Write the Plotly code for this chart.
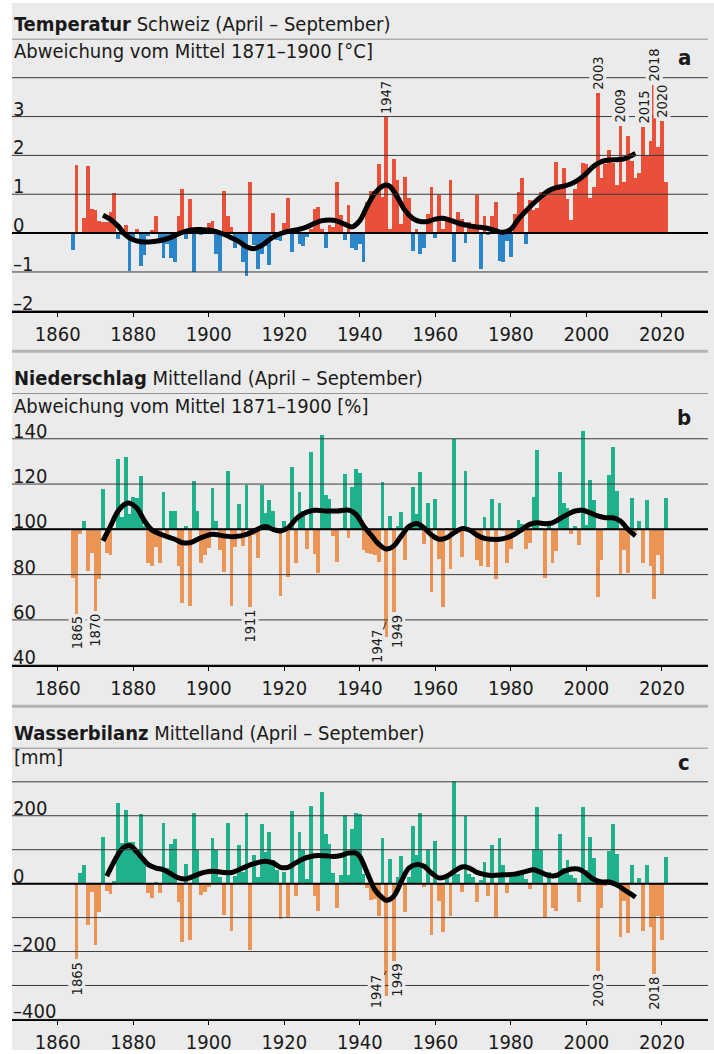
import plotly.graph_objects as go

YEARS = list(range(1864, 2022))

# Temperatur Schweiz, Abweichung vom Mittel 1871-1900 [°C]
TEMP = [
    -0.43, 1.75, 0.03, 0.40, 1.72, 0.62,                              # 1864-1869
    0.60, 0.32, 0.29, 0.30, 0.55, 1.04, -0.14, -0.05, 0.20, -0.97,    # 1870s
    -0.15, 0.12, -0.84, -0.56, -0.08, 0.08, 0.44, -0.24, -0.63, -0.28,
    -0.63, -0.75, 0.44, 1.13, -0.15, 0.87, -0.99, 0.04, -0.04, 0.05,
    0.27, 0.31, -0.54, -0.97, 1.08, 0.44, 0.15, -0.38, -0.25, -0.74,
    -1.09, 1.31, -0.30, -0.92, -0.54, -0.34, -0.82, 0.51, -0.17, -0.20,
    0.26, 0.90, -0.48, 0.10, -0.28, -0.32, -0.10, 0.10, 0.63, 0.68,
    0.10, -0.38, 0.20, 0.15, 1.31, 0.46, -0.17, 0.74, -0.38, -0.43,
    -0.28, -0.75, 0.80, 1.10, 1.10, 1.79, 0.94, 2.98, 0.12, 1.90,
    1.38, 0.23, 1.44, 0.90, -0.46, 0.10, -0.53, -0.38, 0.49, 1.18,
    -0.12, 0.98, 0.10, 0.40, 1.36, -0.75, 0.55, 0.36, -0.25, 0.30,
    0.10, 0.98, -0.91, 0.44, -0.05, 0.44, 0.80, -0.72, -0.75, -0.20,
    -0.62, 0.50, 1.06, 1.41, -0.27, 0.85, 0.60, 0.64, 1.06, 1.06,
    1.09, 1.20, 1.83, 1.21, 1.67, 0.87, 0.35, 1.15, 1.43, 1.81,
    1.79, 0.90, 1.19, 3.62, 1.41, 1.77, 2.15, 1.81, 1.24, 2.77,
    1.32, 2.50, 1.85, 1.41, 1.56, 2.73, 2.01, 2.37, 3.82, 2.21,
    2.90, 1.32,                                                        # 2020-2021
]

# Niederschlag Mittelland, % des Mittels 1871-1900
PRECIP = [
    78.7, 63.0, 98.2, 103.7, 81.9, 89.7,
    64.0, 78.4, 118.2, 89.9, 89.0, 101.0, 131.1, 105.6, 132.0, 106.9,
    114.7, 114.0, 123.6, 101.5, 85.3, 84.1, 92.4, 85.3, 116.9, 97.8,
    108.5, 108.5, 84.1, 67.7, 101.9, 66.5, 121.7, 108.5, 85.3, 89.0,
    91.9, 118.6, 104.1, 91.3, 81.4, 126.1, 66.5, 92.4, 111.6, 93.0,
    119.8, 65.8, 97.8, 87.5, 119.8, 107.3, 113.1, 108.5, 100.5, 70.9,
    103.7, 79.3, 127.6, 85.3, 116.9, 108.5, 91.5, 134.5, 89.3, 80.9,
    142.1, 115.4, 113.5, 97.4, 86.0, 100.5, 124.5, 96.6, 119.0, 126.7,
    125.0, 90.9, 89.7, 89.4, 89.0, 86.0, 121.0, 52.6, 105.9, 63.6,
    101.9, 108.1, 86.8, 100.5, 118.8, 107.0, 125.4, 93.7, 111.7, 72.4,
    113.5, 87.2, 65.8, 100.5, 82.8, 140.1, 100.5, 88.1, 126.0, 100.5,
    99.5, 86.8, 84.1, 105.6, 83.7, 113.5, 78.4, 111.7, 99.5, 85.3,
    91.5, 99.0, 104.3, 102.6, 91.5, 94.4, 114.4, 135.1, 100.5, 78.7,
    104.1, 85.5, 90.5, 125.7, 111.7, 109.5, 98.2, 101.5, 93.4, 143.6,
    102.2, 121.9, 113.1, 70.5, 86.8, 100.8, 124.2, 136.4, 117.2, 80.5,
    91.2, 80.9, 114.0, 99.0, 103.8, 85.5, 113.1, 84.1, 69.6, 89.0,
    80.5, 114.0,
]

# Wasserbilanz Mittelland [mm]
WATER = [
    None, -223, 33, 56, -122, -25,
    -179, -84, 139, -21, -30, 9, 237, 120, 216, 122,
    124, 100, 206, 72, -27, -42, 5, -27, 180, 46,
    118, 131, -54, -171, 59, -166, 208, 100, -34, -23,
    -10, 136, 100, 20, -93, 180, -139, 24, 115, 35,
    210, -196, 85, 20, 177, 94, 154, 71, 40, -104,
    36, -98, 213, -35, 154, 100, 14, 230, -37, -79,
    271, 146, 116, 31, -72, 27, 204, 25, 161, 210,
    206, 28, -13, -49, -45, -96, 136, -331, 74, -226,
    20, 82, -84, 20, 171, 86, 210, -10, 100, -152,
    127, -51, -142, 20, -96, 304, 30, -25, 201, 30,
    20, -54, 10, 63, -37, 113, -99, 136, 54, -27,
    25, 25, 25, 30, 15, -16, 103, 227, 100, -99,
    36, -72, -81, 146, 46, 69, 25, 17, -54, 227,
    40, 139, 77, -256, -72, -6, 98, 176, 88, -157,
    -52, -145, 56, -4, 16, -138, 54, -127, -266, -96,
    -165, 80,
]

# geglättete Kurven (gelesen aus der Vorlage)
TEMP_SMOOTH_YEARS = [1872, 1874, 1876, 1878, 1880, 1882, 1884, 1886, 1888, 1890, 1892, 1894,
                     1896, 1898, 1900, 1902, 1904, 1906, 1908, 1910, 1912, 1914, 1916, 1918,
                     1920, 1922, 1924, 1926, 1928, 1930, 1932, 1934, 1936, 1938, 1940, 1942,
                     1944, 1946, 1947, 1948, 1950, 1952, 1954, 1956, 1958, 1960, 1962, 1964,
                     1966, 1968, 1970, 1972, 1974, 1976, 1978, 1980, 1982, 1984, 1986, 1988,
                     1990, 1992, 1994, 1996, 1998, 2000, 2002, 2004, 2006, 2008, 2010, 2012, 2013]
TEMP_SMOOTH = [0.46, 0.35, 0.18, -0.05, -0.17, -0.22, -0.23, -0.21, -0.17, -0.11, -0.02, 0.05,
               0.09, 0.09, 0.08, 0.04, -0.03, -0.12, -0.22, -0.35, -0.40, -0.32, -0.17, -0.05,
               0.02, 0.06, 0.10, 0.16, 0.25, 0.32, 0.34, 0.31, 0.23, 0.16, 0.32, 0.70,
               1.03, 1.21, 1.24, 1.20, 0.92, 0.58, 0.38, 0.30, 0.30, 0.36, 0.38, 0.33,
               0.26, 0.21, 0.17, 0.15, 0.12, 0.06, 0.02, 0.10, 0.36, 0.57, 0.77, 0.94,
               1.09, 1.17, 1.21, 1.27, 1.38, 1.54, 1.73, 1.84, 1.88, 1.89, 1.91, 2.00, 2.05]

PRECIP_SMOOTH_YEARS = [1872, 1874, 1876, 1878, 1879, 1881, 1883, 1885, 1888, 1891, 1893, 1895,
                       1898, 1901, 1904, 1907, 1910, 1912, 1915, 1917, 1919, 1921, 1923, 1925,
                       1928, 1931, 1934, 1937, 1939, 1941, 1943, 1945, 1947, 1949, 1951, 1953,
                       1955, 1957, 1959, 1961, 1963, 1965, 1967, 1969, 1971, 1973, 1975, 1977,
                       1979, 1981, 1983, 1985, 1987, 1989, 1991, 1993, 1995, 1997, 1999, 2001,
                       2003, 2005, 2007, 2009, 2011, 2013]
PRECIP_SMOOTH = [94.9, 101.5, 108.1, 111.3, 111.6, 109.3, 103.7, 99.6, 97.4, 95.6, 94.1, 94.1,
                 96.3, 97.8, 97.1, 96.8, 97.8, 99.3, 101.2, 100.0, 99.3, 100.7, 104.4, 106.9,
                 108.4, 108.1, 108.1, 108.5, 106.6, 101.5, 97.5, 93.5, 91.3, 92.7, 97.1, 101.2,
                 102.6, 100.7, 97.5, 95.6, 96.3, 98.5, 100.3, 99.7, 97.5, 96.0, 95.6, 95.6,
                 96.3, 97.8, 100.0, 102.2, 102.9, 102.5, 102.9, 104.7, 106.6, 108.1, 108.4, 107.3,
                 105.9, 105.1, 105.1, 103.7, 100.0, 97.1]

WATER_SMOOTH_YEARS = [1873, 1875, 1877, 1879, 1880, 1882, 1884, 1886, 1888, 1890, 1892, 1894,
                      1896, 1898, 1900, 1902, 1904, 1906, 1908, 1910, 1912, 1915, 1917, 1919,
                      1921, 1923, 1925, 1927, 1929, 1931, 1933, 1935, 1937, 1939, 1940, 1942,
                      1944, 1946, 1947, 1949, 1951, 1953, 1955, 1957, 1959, 1961, 1963, 1965,
                      1967, 1969, 1971, 1973, 1975, 1978, 1981, 1984, 1986, 1988, 1990, 1992,
                      1994, 1996, 1998, 2000, 2002, 2004, 2006, 2008, 2010, 2012, 2013]
WATER_SMOOTH = [22, 66, 102, 112, 105, 80, 56, 46, 41, 29, 17, 14,
                22, 31, 36, 36, 33, 33, 41, 51, 59, 66, 61, 48,
                48, 61, 73, 80, 83, 82, 80, 83, 90, 90, 80, 31,
                -18, -42, -49, -37, 7, 46, 56, 51, 31, 17, 22, 36,
                49, 46, 33, 27, 24, 26, 28, 36, 41, 33, 24, 24,
                36, 43, 43, 29, 12, 5, 5, -3, -18, -32, -40]

X_TICKS = [1860, 1880, 1900, 1920, 1940, 1960, 1980, 2000, 2020]

TEMP_GRID = [-2, -1, 0, 1, 2, 3, 4, 5]
TEMP_TICKS = [3, 2, 1, 0, -1, -2]
TEMP_TICK_TEXT = ["3", "2", "1", "0", "–1", "–2"]
PRECIP_GRID = [40, 60, 80, 100, 120, 140, 160]
PRECIP_TICKS = [140, 120, 100, 80, 60, 40]
PRECIP_TICK_TEXT = ["140", "120", "100", "80", "60", "40"]
WATER_GRID = [-400, -300, -200, -100, 0, 100, 200, 300, 400]
WATER_TICKS = [200, 0, -200, -400]
WATER_TICK_TEXT = ["200", "0", "–200", "–400"]

TEMP_LABEL_YEARS = [1947, 2003, 2009, 2015, 2018, 2020]
PRECIP_LABEL_YEARS = [1865, 1870, 1911, 1949]
WATER_LABEL_YEARS = [1865, 1949, 2003, 2018]

FONT = "Liberation Sans Narrow, Arial Narrow, DejaVu Sans Condensed, Liberation Sans, Arial, sans-serif"
BG = "#ebebeb"
TXT = "#1a1a1a"
GRID = "#3a3a3a"
RED, BLUE = "#e8503a", "#2a86c8"
GREEN, ORANGE = "#1fb08c", "#ea9455"
TEXT_SIZE = 20

W, H = 714, 1054
X_DOMAIN = [12 / W, 708 / W]
X_RANGE = [1847.9, 2032.2]


def py(px):
    # Pixel von oben -> paper-Koordinate
    return (H - px) / H


PANELS = [
    # achse, daten, basis, farben, y-range, domain (px oben, px unten)
    ("", TEMP, 0, (RED, BLUE), [-2, 5], (39, 312)),
    ("2", PRECIP, 100, (GREEN, ORANGE), [40, 160], (395, 667.7)),
    ("3", WATER, 0, (GREEN, ORANGE), [-400, 400], (750.7, 1023.3)),
]
SMOOTH = [(TEMP_SMOOTH_YEARS, TEMP_SMOOTH), (PRECIP_SMOOTH_YEARS, PRECIP_SMOOTH),
          (WATER_SMOOTH_YEARS, WATER_SMOOTH)]
GRIDS = [TEMP_GRID, PRECIP_GRID, WATER_GRID]
TICKS = [(TEMP_TICKS, TEMP_TICK_TEXT), (PRECIP_TICKS, PRECIP_TICK_TEXT),
         (WATER_TICKS, WATER_TICK_TEXT)]

fig = go.Figure()
layout = {}
shapes = [dict(type="rect", xref="paper", yref="paper", x0=12 / W, x1=1, y0=0, y1=py(3),
               fillcolor=BG, line_width=0, layer="below")]
annotations = []

for (suffix, vals, base, (pos_c, neg_c), yr, (top, bottom)), (sx, sy), grid, (tv, tt) in zip(
        PANELS, SMOOTH, GRIDS, TICKS):
    xa, ya = "x" + suffix, "y" + suffix
    colors = [pos_c if (v is not None and v >= base) else neg_c for v in vals]
    fig.add_trace(go.Bar(
        x=YEARS, y=[None if v is None else v - base for v in vals], base=base, width=1,
        marker=dict(color=colors, line_width=0), xaxis=xa, yaxis=ya, hoverinfo="skip",
        showlegend=False,
    ))
    fig.add_trace(go.Scatter(
        x=sx, y=sy, mode="lines", line=dict(color="black", width=5, shape="spline", smoothing=1),
        xaxis=xa, yaxis=ya, hoverinfo="skip", showlegend=False,
    ))
    layout["xaxis" + suffix] = dict(
        domain=X_DOMAIN, range=X_RANGE, anchor=ya, tickvals=X_TICKS, ticks="outside",
        ticklen=4, tickcolor="black", showline=True, linecolor="black", linewidth=1.5,
        showgrid=False, zeroline=False, tickfont=dict(family=FONT, size=TEXT_SIZE, color=TXT),
        fixedrange=True,
    )
    layout["yaxis" + suffix] = dict(
        domain=[py(bottom), py(top)], range=yr, anchor=xa, showgrid=False, zeroline=False,
        showticklabels=False, fixedrange=True,
    )
    for g in grid:
        shapes.append(dict(type="line", xref=xa + " domain", yref=ya, x0=0, x1=1, y0=g, y1=g,
                           line=dict(color=GRID, width=1), layer="above"))
    shapes.append(dict(type="line", xref=xa + " domain", yref=ya, x0=0, x1=1, y0=base, y1=base,
                       line=dict(color="black", width=2), layer="above"))
    for v, t in zip(tv, tt):
        annotations.append(dict(xref=xa + " domain", yref=ya, x=0, y=v, text=t, showarrow=False,
                                xanchor="left", yanchor="bottom", yshift=-6, xshift=-1,
                                font=dict(family=FONT, size=TEXT_SIZE, color=TXT)))

# Trennbalken zwischen den Teilbildern
for ypx in (352.7, 708.9):
    shapes.append(dict(type="line", xref="paper", yref="paper", x0=12 / W, x1=708 / W,
                       y0=py(ypx), y1=py(ypx), line=dict(color="#b3b3b3", width=3)))

TITLES = [
    ("<b>Temperatur</b> Schweiz (April – September)", 24.2,
     "Abweichung vom Mittel 1871–1900 [°C]", 51, "a", 57.5),
    ("<b>Niederschlag</b> Mittelland (April – September)", 379.2,
     "Abweichung vom Mittel 1871–1900 [%]", 407.5, "b", 419.3),
    ("<b>Wasserbilanz</b> Mittelland (April – September)", 735.5,
     "[mm]", 760, "c", 765.3),
]
for title, ty, sub, sy, letter, ly in TITLES:
    annotations.append(dict(xref="paper", yref="paper", x=12 / W, y=py(ty), text=title,
                            showarrow=False, xanchor="left", yanchor="middle",
                            font=dict(family=FONT, size=TEXT_SIZE, color=TXT)))
    annotations.append(dict(xref="paper", yref="paper", x=12 / W, y=py(sy), text=sub,
                            showarrow=False, xanchor="left", yanchor="middle",
                            font=dict(family=FONT, size=TEXT_SIZE, color=TXT)))
    annotations.append(dict(xref="paper", yref="paper", x=684 / W, y=py(ly), text=f"<b>{letter}</b>",
                            showarrow=False, xanchor="center", yanchor="middle",
                            font=dict(family=FONT, size=22, color=TXT)))

LABEL_FONT = dict(family=FONT, size=14.5, color=TXT)


def year_label(xa, ya, yr, value, above, xshift=0):
    return dict(xref=xa, yref=ya, x=yr, y=value, text=str(yr), textangle=-90, showarrow=False,
                yanchor="bottom" if above else "top", yshift=2 if above else -2, xshift=xshift,
                bgcolor=BG, borderpad=0, font=LABEL_FONT)


for yr in TEMP_LABEL_YEARS:
    annotations.append(year_label("x", "y", yr, TEMP[YEARS.index(yr)], True))
for yr in PRECIP_LABEL_YEARS:
    annotations.append(year_label("x2", "y2", yr, PRECIP[YEARS.index(yr)], False,
                                  3 if yr == 1949 else 0))
for yr in WATER_LABEL_YEARS:
    annotations.append(year_label("x3", "y3", yr, WATER[YEARS.index(yr)], False,
                                  3 if yr == 1949 else 0))

# 1947 mit Hinweislinie (Teilbilder b und c)
for xa, ya, vals, ysh, ay in (("x2", "y2", PRECIP, 15, 25), ("x3", "y3", WATER, 25, 21)):
    annotations.append(dict(xref=xa, yref=ya, x=1947, y=vals[YEARS.index(1947)], text="1947",
                            textangle=-90, showarrow=True, arrowhead=0, arrowwidth=0.8,
                            arrowcolor=TXT, ax=-10, ay=ay, yshift=ysh, bgcolor=BG, borderpad=0,
                            font=LABEL_FONT))

fig.update_layout(
    width=W, height=H, margin=dict(l=0, r=0, t=0, b=0),
    paper_bgcolor="white", plot_bgcolor=BG, bargap=0,
    font=dict(family=FONT, color=TXT),
    shapes=shapes, annotations=annotations, **layout,
)

# Standardrand der Seite entfernen, damit die Grafik genau im Fenster sitzt
fig.write_html("out.html", config={"displayModeBar": False},
               post_script="document.body.style.margin = '0';")
